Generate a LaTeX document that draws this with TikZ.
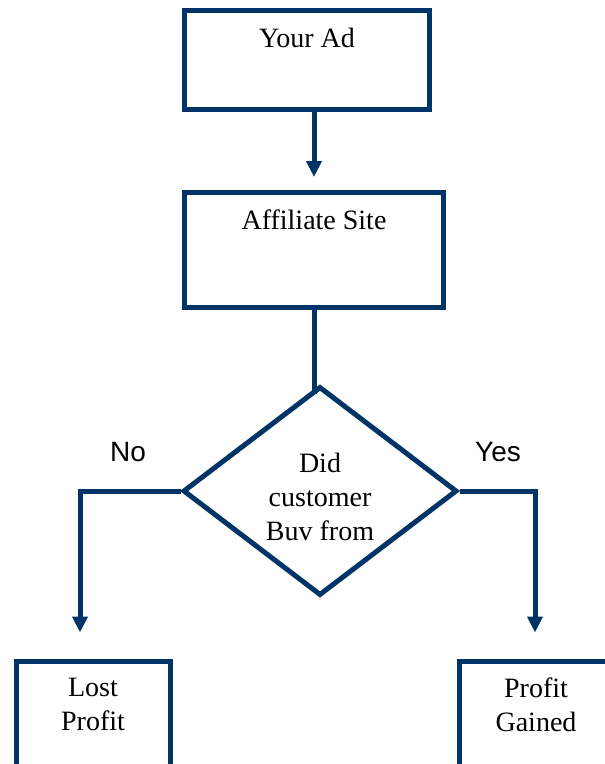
\documentclass[tikz,border=0pt]{standalone}
\usepackage{fontspec}
\setmainfont{Liberation Serif}
\newfontfamily\answerfont{Liberation Sans}
\usetikzlibrary{shapes.geometric,arrows.meta}
\definecolor{navy}{RGB}{0,51,102}

\begin{document}
\begin{tikzpicture}[x=1pt, y=-1pt,
    every node/.style={font=\fontsize{28}{34}\selectfont},
    box/.style={draw=navy, line width=5pt, rectangle, inner sep=0pt},
    boxtext/.style={align=center, anchor=center},
    answer/.style={font=\answerfont\fontsize{28}{34}\selectfont},
    flow/.style={draw=navy, line width=5pt, -{Triangle[length=16pt,width=15pt]}},
    link/.style={draw=navy, line width=5pt}]
    \clip (0,0) rectangle (605,764);
    \node[box, minimum width=245.5pt, minimum height=99pt, label={[boxtext, yshift=-30pt]north:Your Ad}] (ad) at (307,60) {};
    \node[box, minimum width=259.5pt, minimum height=115pt, label={[boxtext, yshift=-30pt]north:Affiliate Site}] (site) at (314,250) {};
    \node[draw=navy, line width=5pt, diamond, minimum width=274pt, minimum height=209pt, inner sep=0pt, align=center] (dec) at (320,491) {};
    \node[align=center] (question) at (320,497) {Did\\customer\\Buv from};
    \node[box, minimum width=154pt, minimum height=110pt, label={[boxtext, yshift=-46pt]north:{Lost\\Profit}}] (lost) at (93,716) {};
    \node[box, minimum width=154pt, minimum height=110pt, label={[boxtext, yshift=-46pt]north:{Profit\\Gained}}] (gain) at (536,716) {};
    \node[answer] (no) at (128,452) {No};
    \node[answer] (yes) at (498,452) {Yes};
    \draw[flow, shorten >=13pt] (site.north |- ad.south) -- (site.north);
    \draw[link] (site.south) -- ([yshift=-10pt]site.south |- dec.north);
    \draw[flow] (dec.west) -| ([xshift=-13pt, yshift=26pt]lost.north);
    \draw[flow] (dec.east) -| ([xshift=-1pt, yshift=26pt]gain.north);
\end{tikzpicture}
\end{document}
